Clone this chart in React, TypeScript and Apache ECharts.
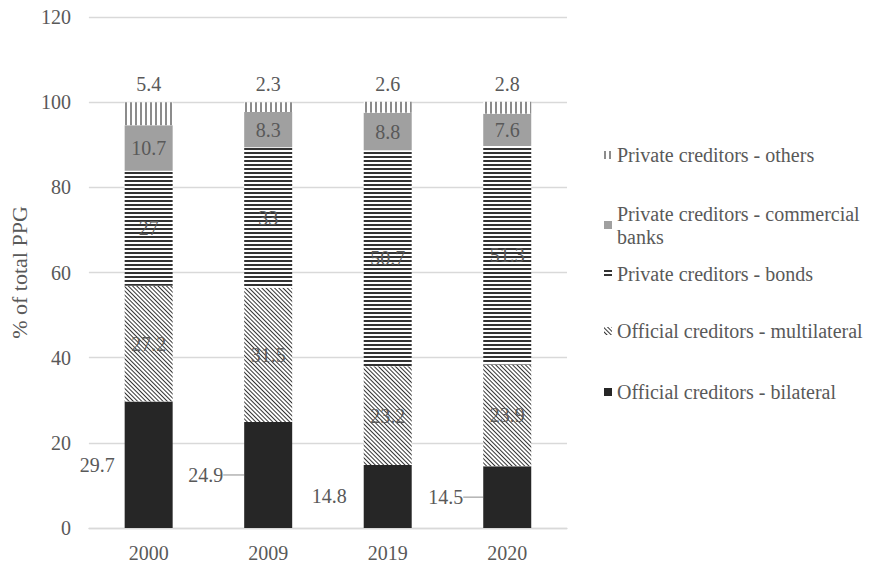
import React, { useEffect, useRef } from "react";
import * as echarts from "echarts";

// Composition of public and publicly guaranteed (PPG) debt by creditor type, % of total
const years = ["2000", "2009", "2019", "2020"];
const bilateral = [29.7, 24.9, 14.8, 14.5];
const multilateral = [27.2, 31.5, 23.2, 23.9];
const bonds = [27, 33, 50.7, 51.3];
const commercial = [10.7, 8.3, 8.8, 7.6];
const others = [5.4, 2.3, 2.6, 2.8];

const yMin = 0;
const yMax = 120;
const yStep = 20;

const NAME_BILATERAL = "Official creditors - bilateral";
const NAME_MULTILATERAL = "Official creditors - multilateral";
const NAME_BONDS = "Private creditors - bonds";
const NAME_COMMERCIAL = "Private creditors - commercial banks";
const NAME_OTHERS = "Private creditors - others";

const FONT = "'Liberation Serif', 'Times New Roman', serif";
const FONT_SIZE = 20;
const TEXT = "#595959";
const GRID = "#d9d9d9";

// legend entries, top to bottom, with the vertical centre of their first text line
const legendOrder = [NAME_OTHERS, NAME_COMMERCIAL, NAME_BONDS, NAME_MULTILATERAL, NAME_BILATERAL];
const legendCentres = [155, 215, 274, 331, 392];

// where the bilateral labels sit to the left of their bars
const bilateralLabelDistance = [10, 5, 17, 5];
const bilateralLabelShift = [0, 0, -5, 0];
const bilateralLeaderShift = [0, -16, 0, -15];

export default function App() {
  const ref = useRef<HTMLDivElement>(null);

  useEffect(() => {
    if (!ref.current) return;
    const chart = echarts.init(ref.current, undefined, { renderer: "svg" });

    const baseLabel = {
      show: true,
      color: TEXT,
      fontFamily: FONT,
      fontSize: FONT_SIZE,
    };

    const option: any = {
      animation: false,
      backgroundColor: "#ffffff",
      textStyle: { fontFamily: FONT },
      grid: { left: 85, right: 309, top: 17, bottom: 35, containLabel: false },
      legend: legendOrder.map((name, i) => ({
        data: [name],
        left: 604,
        top: legendCentres[i] - 11.5,
        orient: "vertical",
        padding: 0,
        itemWidth: 8,
        itemHeight: 8,
        icon: "rect",
        selectedMode: false,
        formatter: name === NAME_COMMERCIAL ? "Private creditors - commercial\nbanks" : "{name}",
        textStyle: {
          color: TEXT,
          fontFamily: FONT,
          fontSize: FONT_SIZE,
          lineHeight: 23,
          padding: name === NAME_COMMERCIAL ? [0, 0, -23, 0] : 0,
        },
      })),
      xAxis: {
        type: "category",
        data: years,
        axisLine: { show: true, lineStyle: { color: GRID, width: 1.3 } },
        axisTick: { show: false },
        axisLabel: { color: TEXT, fontFamily: FONT, fontSize: FONT_SIZE, margin: 15 },
      },
      yAxis: {
        type: "value",
        min: yMin,
        max: yMax,
        interval: yStep,
        name: "% of total PPG",
        nameLocation: "middle",
        nameGap: 48,
        nameTextStyle: { color: TEXT, fontFamily: FONT, fontSize: 22 },
        axisLine: { show: false },
        axisTick: { show: false },
        axisLabel: { color: TEXT, fontFamily: FONT, fontSize: FONT_SIZE, margin: 18 },
        splitLine: { lineStyle: { color: GRID, width: 1.3 } },
      },
      series: [
        {
          name: NAME_BILATERAL,
          type: "bar",
          stack: "total",
          barWidth: 48,
          itemStyle: { color: "#262626" },
          label: { ...baseLabel, position: "left" },
          labelLayout: (p: any) => ({ dx: bilateralLeaderShift[p.dataIndex] }),
          data: bilateral.map((v, i) => ({
            value: v,
            label: { distance: bilateralLabelDistance[i], offset: [0, bilateralLabelShift[i]] },
            labelLine: {
              show: bilateralLeaderShift[i] !== 0,
              length2: 0,
              lineStyle: { color: "#8c8c8c", width: 1 },
            },
          })),
        },
        {
          name: NAME_MULTILATERAL,
          type: "bar",
          stack: "total",
          barWidth: 48,
          itemStyle: {
            color: "#ffffff",
            decal: {
              symbol: "rect",
              symbolSize: 1,
              color: "#333333",
              dashArrayX: [1, 0],
              dashArrayY: [1, 1.6],
              rotation: Math.PI / 4,
            },
          },
          label: { ...baseLabel, position: "inside" },
          data: multilateral,
        },
        {
          name: NAME_BONDS,
          type: "bar",
          stack: "total",
          barWidth: 48,
          itemStyle: {
            color: "#ffffff",
            decal: {
              symbol: "rect",
              symbolSize: 1,
              color: "#333333",
              dashArrayX: [1, 0],
              dashArrayY: [1.6, 1.4],
              rotation: 0,
            },
          },
          label: { ...baseLabel, position: "inside" },
          data: bonds,
        },
        {
          name: NAME_COMMERCIAL,
          type: "bar",
          stack: "total",
          barWidth: 48,
          itemStyle: { color: "#a0a0a0" },
          label: { ...baseLabel, position: "inside" },
          data: commercial,
        },
        {
          name: NAME_OTHERS,
          type: "bar",
          stack: "total",
          barWidth: 48,
          itemStyle: {
            color: "#ffffff",
            decal: {
              symbol: "rect",
              symbolSize: 1,
              color: "#8c8c8c",
              dashArrayX: [1.2, 2.1],
              dashArrayY: [1, 0],
              rotation: 0,
            },
          },
          label: { ...baseLabel, position: "top", distance: 8 },
          data: others,
        },
      ],
    };

    chart.setOption(option);
    return () => chart.dispose();
  }, []);

  return (
    <div
      ref={ref}
      style={{ position: "fixed", left: 0, top: 0, width: 876, height: 563, background: "#ffffff" }}
    />
  );
}
